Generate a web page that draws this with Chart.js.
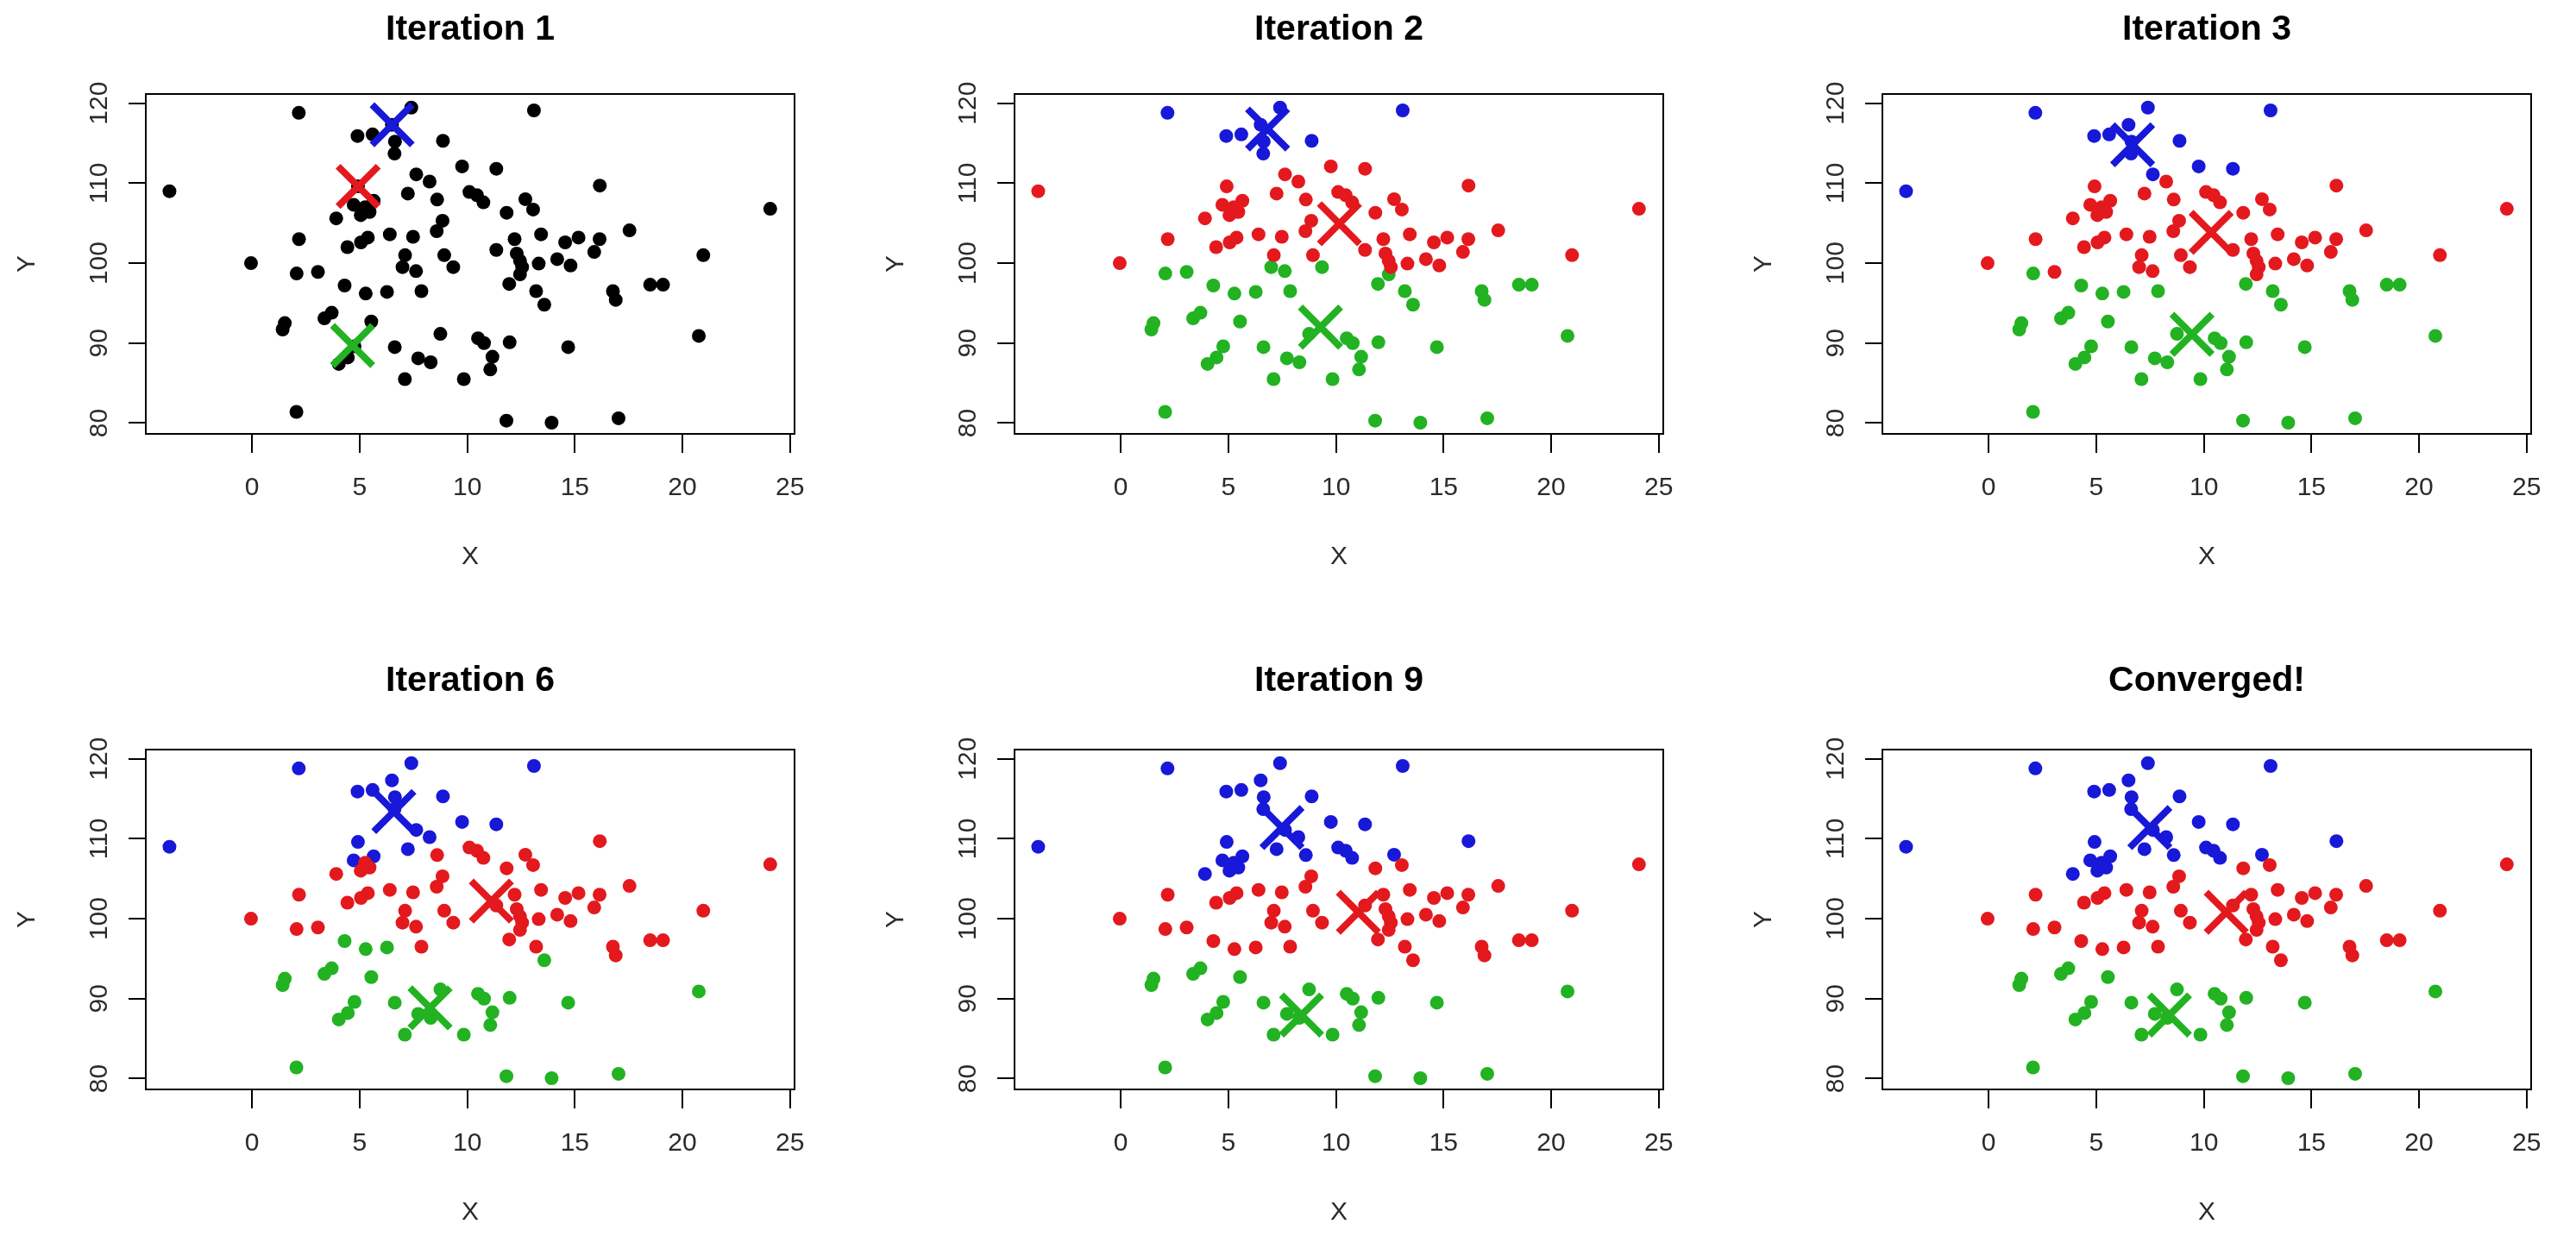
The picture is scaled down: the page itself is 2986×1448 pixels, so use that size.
<!DOCTYPE html>
<html>
<head>
<meta charset="utf-8">
<script src="https://cdn.jsdelivr.net/npm/chart.js@4.4.1/dist/chart.umd.min.js"></script>
<style>
html, body { margin: 0; padding: 0; background: #ffffff; }
body { width: 2986px; height: 1448px; position: relative; overflow: hidden; }
canvas { position: absolute; }
</style>
</head>
<body>
<script>
// ---------------- DATA ----------------
const panelTitles = ['Iteration 1', 'Iteration 2', 'Iteration 3', 'Iteration 6', 'Iteration 9', 'Converged!'];

const pointX = [2.17, 4.9, 5.6, 7.4, 6.5, 6.64, 6.62, 8.87, 13.1, -3.84,
  9.76, 11.35, 7.63, 8.25, 4.92, 7.24, 8.6, 10.1, 10.45, 10.75,
  12.7, 16.16, 4.72, 5.65, 5.25, 5.05, 5.46, 3.91, 13.06, 11.83,
  24.08, 8.85, 8.58, 17.54, 2.18, 6.4, 7.48, 5.38, 5.06, 4.43,
  13.43, 14.55, 15.17, 16.15, 15.9, 12.2, 11.35, 20.97, -0.05, 7.11,
  6.99, 7.62, 8.93, 9.35, 2.07, 3.06, 12.3, 12.45, 12.55, 12.45,
  11.95, 13.32, 14.18, 14.8, 4.3, 5.28, 6.27, 7.87, 13.2, 13.58,
  16.77, 16.9, 18.5, 19.1, 3.36, 3.7, 1.52, 1.42, 5.54, 8.75,
  20.76, 10.5, 10.78, 11.97, 14.69, 6.63, 4.76, 4.45, 4.03, 7.72,
  8.3, 11.17, 11.07, 7.1, 9.84, 2.06, 11.82, 13.92, 17.03];

const pointY = [118.8, 115.9, 116.1, 119.45, 117.3, 115.2, 113.7, 115.3, 119.1, 109.0,
  112.1, 111.8, 111.1, 110.2, 109.6, 108.7, 107.95, 108.9, 108.5, 107.6,
  108.0, 109.7, 107.3, 107.8, 107.0, 106.0, 106.4, 105.6, 106.7, 106.3,
  106.8, 105.3, 104.0, 104.1, 103.0, 103.6, 103.3, 103.2, 102.6, 102.0,
  103.6, 102.6, 103.2, 103.0, 101.4, 103.0, 101.65, 101.0, 100.0, 101.0,
  99.5, 99.0, 101.0, 99.5, 98.7, 98.9, 101.2, 100.3, 99.5, 98.6,
  97.4, 99.95, 100.5, 99.7, 97.2, 96.2, 96.4, 96.5, 96.5, 94.8,
  96.5, 95.4, 97.3, 97.3, 93.1, 93.8, 92.5, 91.7, 92.7, 91.15,
  90.9, 90.6, 90.0, 90.1, 89.5, 89.5, 89.6, 88.2, 87.4, 88.1,
  87.6, 88.3, 86.7, 85.5, 85.5, 81.4, 80.3, 80.05, 80.6];

// cluster of each point in each panel: K = black, B = blue, R = red, G = green
const labelsIter1 = 'KKKKKKKKKK KKKKKKKKKK KKKKKKKKKK KKKKKKKKKK KKKKKKKKKK KKKKKKKKKK KKKKKKKKKK KKKKKKKKKK KKKKKKKKKK KKKKKKKKK';
const labelsIter2 = 'BBBBBBBBBR RRRRRRRRRR RRRRRRRRRR RRRRRRRRRR RRRRRRRRRR GGRGGGRRRG GRRRGGGGGG GGGGGGGGGG GGGGGGGGGG GGGGGGGGG';
const labelsIter3 = 'BBBBBBBBBB BBBRRRRRRR RRRRRRRRRR RRRRRRRRRR RRRRRRRRRR RRRRGRRRRR GRRRGGGGGG GGGGGGGGGG GGGGGGGGGG GGGGGGGGG';
const labelsIter6 = 'BBBBBBBBBB BBBBBBRRRR RRBBRRRRRR RRRRRRRRRR RRRRRRRRRR RRRRRRRRRR RRRRGGGRRG RRRRGGGGGG GGGGGGGGGG GGGGGGGGG';
const labelsIter9 = 'BBBBBBBBBB BBBBBBBBBB BBBBBBBBRR RRRRRRRRRR RRRRRRRRRR RRRRRRRRRR RRRRRRRRRR RRRRGGGGGG GGGGGGGGGG GGGGGGGGG';
const labelsFinal = 'BBBBBBBBBB BBBBBBBBBB BBBBBBBBRR RRRRRRRRRR RRRRRRRRRR RRRRRRRRRR RRRRRRRRRR RRRRGGGGGG GGGGGGGGGG GGGGGGGGG';

// centroid positions, one entry per panel
const blueCentroidX  = [6.51, 6.82, 6.69, 6.59, 7.49, 7.49];
const blueCentroidY  = [117.3, 116.77, 114.8, 113.4, 111.4, 111.4];
const redCentroidX   = [4.93, 10.16, 10.34, 11.12, 11.04, 11.04];
const redCentroidY   = [109.6, 104.93, 103.85, 102.2, 100.8, 100.8];
const greenCentroidX = [4.67, 9.28, 9.45, 8.27, 8.4, 8.4];
const greenCentroidY = [89.7, 92.0, 91.1, 88.85, 87.95, 87.95];

const xTickValues = [0, 5, 10, 15, 20, 25];
const yTickValues = [80, 90, 100, 110, 120];

// ---------------- STYLE / LAYOUT ----------------
const COLORS = { K: '#000000', B: '#1818D8', R: '#E3191E', G: '#22B222' };
const FONT = "'Liberation Sans', Arial, sans-serif";
const X_RANGE = [-4.94, 25.21];
const Y_RANGE = [78.65, 121.15];
const colLefts = [169, 1176, 2182];
const rowTops = [109, 869];
const BOX_W = 763, BOX_H = 394;
const Y_AXIS_W = 155, X_AXIS_H = 161, TITLE_BLOCK = 108, RIGHT_PAD = 30;
const titlePad = [{ top: 8.9, bottom: 49.9 }, { top: 4.4, bottom: 54.4 }];

const panelLabels = [labelsIter1, labelsIter2, labelsIter3, labelsIter6, labelsIter9, labelsFinal]
  .map(s => s.replace(/\s+/g, ''));

const plotBox = {
  id: 'plotBox',
  afterDatasetsDraw(chart) {
    const { ctx, chartArea: a } = chart;
    ctx.save();
    ctx.strokeStyle = '#000';
    ctx.lineWidth = 2;
    ctx.strokeRect(a.left, a.top, a.right - a.left, a.bottom - a.top);
    ctx.restore();
  }
};

function makePanel(p) {
  const col = p % 3, row = Math.floor(p / 3);
  const canvas = document.createElement('canvas');
  const cw = Y_AXIS_W + BOX_W + RIGHT_PAD;
  const chh = TITLE_BLOCK + BOX_H + X_AXIS_H;
  canvas.width = cw; canvas.height = chh;
  canvas.style.width = cw + 'px'; canvas.style.height = chh + 'px';
  canvas.style.left = (colLefts[col] - Y_AXIS_W) + 'px';
  canvas.style.top = (rowTops[row] - TITLE_BLOCK) + 'px';
  document.body.appendChild(canvas);

  const labels = panelLabels[p];
  const datasets = [];
  ['K', 'R', 'G', 'B'].forEach(k => {
    const pts = [];
    for (let i = 0; i < pointX.length; i++) {
      if (labels[i] === k) pts.push({ x: pointX[i], y: pointY[i] });
    }
    if (pts.length) {
      datasets.push({
        data: pts, order: 2,
        pointRadius: 8, pointHoverRadius: 8,
        pointBackgroundColor: COLORS[k], pointBorderWidth: 0,
        showLine: false, clip: false
      });
    }
  });
  datasets.push({
    data: [
      { x: blueCentroidX[p], y: blueCentroidY[p] },
      { x: redCentroidX[p], y: redCentroidY[p] },
      { x: greenCentroidX[p], y: greenCentroidY[p] }
    ],
    order: 0,
    pointStyle: 'crossRot',
    pointRadius: 33, pointHoverRadius: 33,
    pointBorderColor: [COLORS.B, COLORS.R, COLORS.G],
    pointBackgroundColor: [COLORS.B, COLORS.R, COLORS.G],
    pointBorderWidth: 8,
    showLine: false, clip: false
  });

  const tickFont = { family: FONT, size: 30 };
  new Chart(canvas, {
    type: 'scatter',
    data: { datasets },
    options: {
      responsive: false,
      devicePixelRatio: 1,
      animation: false,
      events: [],
      layout: { padding: { left: 0, right: RIGHT_PAD, top: 0, bottom: 0 } },
      plugins: {
        legend: { display: false },
        tooltip: { enabled: false },
        title: {
          display: true,
          text: panelTitles[p],
          fullSize: false,
          color: '#000',
          font: { family: FONT, size: 41, weight: 'bold', lineHeight: 1.2 },
          padding: titlePad[row]
        }
      },
      scales: {
        x: {
          type: 'linear', position: 'bottom',
          min: X_RANGE[0], max: X_RANGE[1],
          afterBuildTicks: s => { s.ticks = xTickValues.map(v => ({ value: v })); },
          afterFit: s => { s.height = X_AXIS_H; s.paddingLeft = 0; s.paddingRight = 0; },
          grid: { display: true, drawOnChartArea: false, drawTicks: true, tickLength: 22, color: '#000', lineWidth: 2 },
          border: { display: false },
          ticks: { autoSkip: false, maxRotation: 0, minRotation: 0, padding: 23, color: '#2b2b2b', font: tickFont,
                   callback: v => String(v) },
          title: { display: true, text: 'X', color: '#2b2b2b', font: { family: FONT, size: 30, lineHeight: 1.2 }, padding: 0 }
        },
        y: {
          type: 'linear', position: 'left',
          min: Y_RANGE[0], max: Y_RANGE[1],
          afterBuildTicks: s => { s.ticks = yTickValues.map(v => ({ value: v })); },
          afterFit: s => { s.width = Y_AXIS_W; s.paddingTop = 0; s.paddingBottom = 0; },
          grid: { display: true, drawOnChartArea: false, drawTicks: true, tickLength: 20, color: '#000', lineWidth: 2 },
          border: { display: false },
          ticks: { autoSkip: false, minRotation: 90, maxRotation: 90, crossAlign: 'center', padding: 8,
                   color: '#2b2b2b', font: tickFont, callback: v => String(v) },
          title: { display: true, text: 'Y', color: '#2b2b2b', font: { family: FONT, size: 30, lineHeight: 1.2 }, padding: 0 }
        }
      }
    },
    plugins: [plotBox]
  });
}

for (let p = 0; p < 6; p++) makePanel(p);
</script>
</body>
</html>
